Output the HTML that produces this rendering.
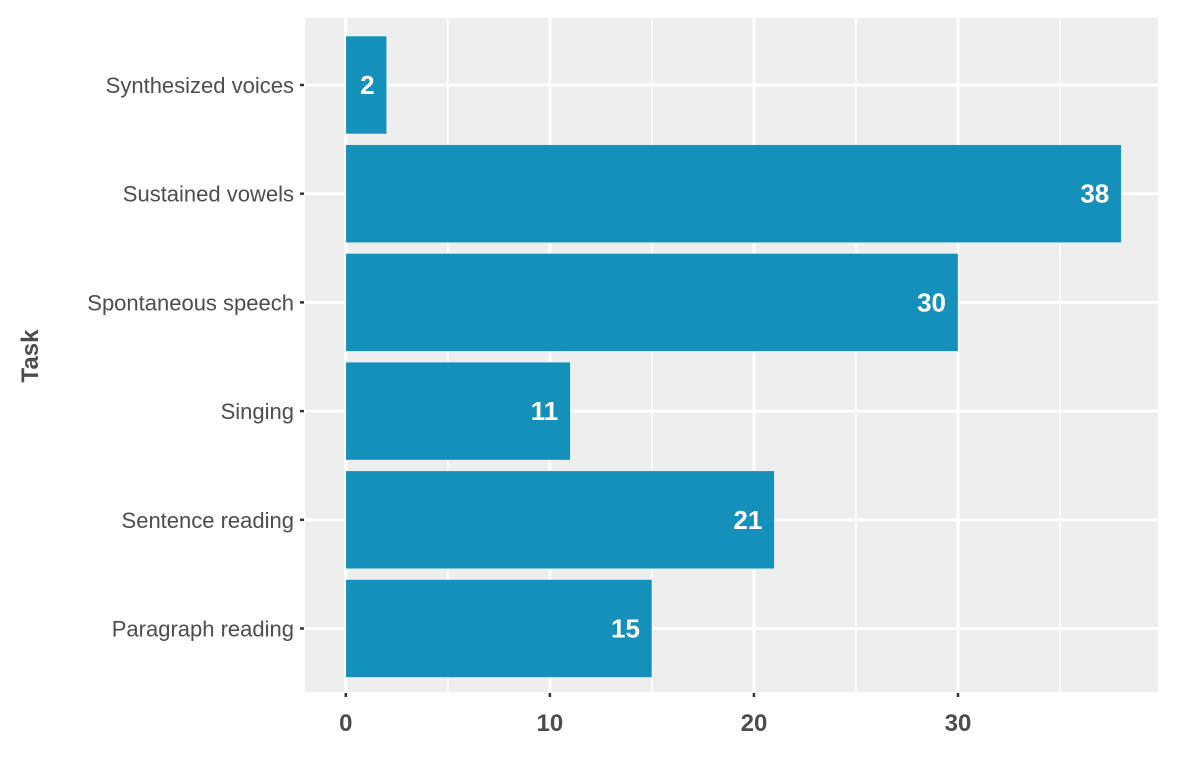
<!DOCTYPE html>
<html><head><meta charset="utf-8"><style>
body{margin:0;background:#fff;}
svg text{font-family:"Liberation Sans Narrow","Liberation Sans",sans-serif;}
</style></head><body>
<svg id="chart" width="1177" height="755" xmlns="http://www.w3.org/2000/svg"></svg>
<script>
const categories=["Paragraph reading","Sentence reading","Singing","Spontaneous speech","Sustained vowels","Synthesized voices"];
const values=[15,21,11,30,38,2];
const xTicks=[0,10,20,30];
const xMinor=[5,15,25,35];

const svg=document.getElementById('chart');
const NS='http://www.w3.org/2000/svg';
const L=305,R=1158,T=18,B=692;
const xmin=-2.0,xmax=39.8;
const x=v=>L+(v-xmin)/(xmax-xmin)*(R-L);
const n=categories.length;
const step=108.7;
const y=i=>628.5-i*step;
function mk(tag,attrs,parent){const e=document.createElementNS(NS,tag);for(const k in attrs)e.setAttribute(k,attrs[k]);(parent||svg).appendChild(e);return e;}

let e=mk('rect',{x:L,y:T,width:R-L,height:B-T,fill:'#EEEEEE'});


xMinor.forEach(v=>{const g=mk('line',{x1:x(v),x2:x(v),y1:T,y2:B,stroke:'#fff','stroke-width':1.5});

});
xTicks.forEach(v=>{const g=mk('line',{x1:x(v),x2:x(v),y1:T,y2:B,stroke:'#fff','stroke-width':3});

});
categories.forEach((c,i)=>{const g=mk('line',{x1:L,x2:R,y1:y(i),y2:y(i),stroke:'#fff','stroke-width':3});

});

const bw=step*0.9;
categories.forEach((c,i)=>{
 const b=mk('rect',{x:x(0),y:y(i)-bw/2,width:x(values[i])-x(0),height:bw,fill:'#1590BA',stroke:'#ffffff','stroke-width':0.6,'stroke-opacity':0.6});
 
 
 const t=mk('text',{x:x(values[i])-12,y:y(i)+9,'text-anchor':'end','font-size':26,'font-weight':'bold',fill:'#fff'});
 t.textContent=values[i];
 
 
 const tk=mk('line',{x1:L-5,x2:L-1,y1:y(i),y2:y(i),stroke:'#333','stroke-width':2.5});
 
 
 const yl=mk('text',{x:L-11,y:y(i)+8,'text-anchor':'end','font-size':22,fill:'#4D4D4D'});
 yl.textContent=c;
 
 
});
xTicks.forEach(v=>{
 const tk=mk('line',{x1:x(v),x2:x(v),y1:B+1,y2:B+5,stroke:'#333','stroke-width':2.5});
 
 
 const t=mk('text',{x:x(v),y:731,'text-anchor':'middle','font-size':24,'font-weight':'bold',fill:'#4D4D4D'});
 t.textContent=v;
 
 
});
const yt=mk('text',{x:0,y:0,transform:'translate(38,356) rotate(-90)','text-anchor':'middle','font-size':24,'font-weight':'bold',fill:'#4D4D4D'});
yt.textContent='Task';


</script>
</body></html>
